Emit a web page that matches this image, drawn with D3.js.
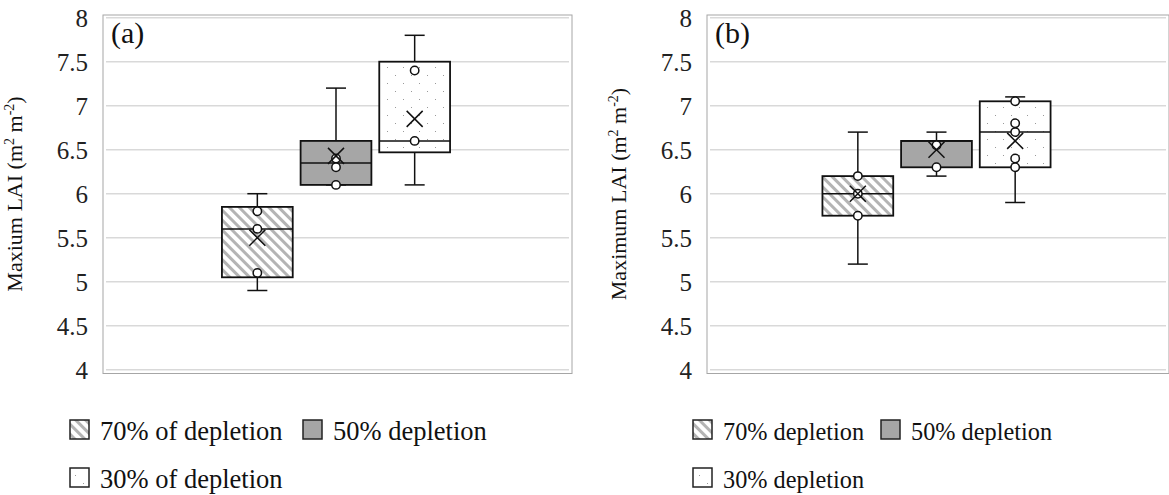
<!DOCTYPE html>
<html>
<head>
<meta charset="utf-8">
<script src="https://cdn.jsdelivr.net/npm/d3@7"></script>
<style>
  body { margin: 0; background: #fff; }
</style>
</head>
<body>
<svg id="chart" width="1169" height="495"></svg>
<script>
// series (one box per irrigation treatment)
const seriesKeys = ["s70", "s50", "s30"];
const legendA = ["70% of depletion", "50% depletion", "30% of depletion"];
const legendB = ["70% depletion", "50% depletion", "30% depletion"];
const yTicks = [4, 4.5, 5, 5.5, 6, 6.5, 7, 7.5, 8];

// panel (a) box stats
const aMin  = [4.9, 6.1, 6.1];
const aQ1   = [5.05, 6.1, 6.47];
const aMed  = [5.6, 6.35, 6.6];
const aQ3   = [5.85, 6.6, 7.5];
const aMax  = [6.0, 7.2, 7.8];
const aMean = [5.5, 6.43, 6.85];
const aPts  = [[5.8, 5.6, 5.1], [6.4, 6.3, 6.1], [7.4, 6.6]];

// panel (b) box stats
const bMin  = [5.2, 6.2, 5.9];
const bQ1   = [5.75, 6.3, 6.3];
const bMed  = [6.0, 6.6, 6.7];
const bQ3   = [6.2, 6.6, 7.05];
const bMax  = [6.7, 6.7, 7.1];
const bMean = [6.0, 6.5, 6.6];
const bPts  = [[6.2, 6.0, 5.75], [6.55, 6.3], [7.05, 6.8, 6.7, 6.4, 6.3]];

const FONT = '"Liberation Serif", Tinos, "Times New Roman", serif';

const svg = d3.select("#chart");
const defs = svg.append("defs");

// wide downward diagonal hatch
const hatch = defs.append("pattern")
    .attr("id", "hatch")
    .attr("patternUnits", "userSpaceOnUse")
    .attr("width", 7).attr("height", 7)
    .attr("patternTransform", "rotate(-45)");
hatch.append("rect").attr("width", 7).attr("height", 7).attr("fill", "#fff");
hatch.append("rect").attr("width", 3).attr("height", 7).attr("fill", "#b4b4b4");

// small staggered dots
const dots = defs.append("pattern")
    .attr("id", "dots")
    .attr("patternUnits", "userSpaceOnUse")
    .attr("width", 16).attr("height", 16);
dots.append("rect").attr("width", 16).attr("height", 16).attr("fill", "#fff");
dots.append("rect").attr("x", 3).attr("y", 3).attr("width", 1).attr("height", 1).attr("fill", "#9a9a9a");
dots.append("rect").attr("x", 11).attr("y", 11).attr("width", 1).attr("height", 1).attr("fill", "#9a9a9a");

const fills = ["url(#hatch)", "#a6a6a6", "url(#dots)"];

const y = d3.scaleLinear().domain([4, 8]).range([369.7, 17.7]);

const panels = [
  { tag: "(a)", left: 106, right: 569, ylab: "Maxium LAI", legend: legendA, legSize: 26.5,
    min: aMin, q1: aQ1, med: aMed, q3: aQ3, max: aMax, mean: aMean, pts: aPts,
    leg: [[70, 420], [303, 420], [70, 468]] },
  { tag: "(b)", left: 710, right: 1166, ylab: "Maximum LAI", legend: legendB, legSize: 24.3,
    min: bMin, q1: bQ1, med: bMed, q3: bQ3, max: bMax, mean: bMean, pts: bPts,
    leg: [[693, 420], [881, 420], [693, 468]] }
];

panels.forEach(function (p) {
  const g = svg.append("g");

  // gridlines
  g.selectAll(".grid").data(yTicks).enter().append("line")
      .attr("x1", p.left).attr("x2", p.right)
      .attr("y1", d => y(d)).attr("y2", d => y(d))
      .attr("stroke", "#d9d9d9").attr("stroke-width", 1.5);

  // plot frame
  g.append("rect")
      .attr("x", p.left - 3).attr("y", 15)
      .attr("width", p.right - p.left + 6).attr("height", 358.5)
      .attr("fill", "none").attr("stroke", "#a6a6a6").attr("stroke-width", 1);

  // y axis labels
  const yAxis = d3.axisLeft(y).tickValues(yTicks).tickSize(0).tickPadding(0)
      .tickFormat(d => String(d));
  const ax = g.append("g").attr("transform", `translate(${p.left - 18},0)`).call(yAxis);
  ax.attr("font-family", null).attr("font-size", null);
  ax.select(".domain").remove();
  ax.selectAll("text")
      .style("font-family", FONT)
      .style("font-size", "25px").attr("fill", "#222").attr("dy", "0.34em");

  // y title
  const yt = g.append("text")
      .attr("transform", `translate(${p.left - 84},194) rotate(-90)`)
      .attr("text-anchor", "middle")
      .style("font-family", FONT)
      .style("font-size", "22px").attr("fill", "#111");
  yt.append("tspan").text(p.ylab + " (m");
  yt.append("tspan").style("font-size", "14px").attr("dy", -8).text("2");
  yt.append("tspan").attr("dy", 8).text(" m");
  yt.append("tspan").style("font-size", "14px").attr("dy", -8).text("-2");
  yt.append("tspan").attr("dy", 8).text(")");

  // panel tag
  g.append("text").attr("x", p.left + 5).attr("y", 43)
      .style("font-family", FONT)
      .style("font-size", "30px").attr("fill", "#111").text(p.tag);

  // series positions
  const mid = (p.left + p.right) / 2 - 1.5;
  const x = d3.scaleBand().domain(seriesKeys)
      .range([mid - 118, mid + 118]).paddingInner(0.1).paddingOuter(0.05);
  const bw = x.bandwidth();

  seriesKeys.forEach(function (k, i) {
    const cx = x(k) + bw / 2;
    const bg = g.append("g");
    // whiskers
    bg.append("line").attr("x1", cx).attr("x2", cx)
        .attr("y1", y(p.max[i])).attr("y2", y(p.q3[i]))
        .attr("stroke", "#111").attr("stroke-width", 1.5);
    bg.append("line").attr("x1", cx).attr("x2", cx)
        .attr("y1", y(p.q1[i])).attr("y2", y(p.min[i]))
        .attr("stroke", "#111").attr("stroke-width", 1.5);
    [p.max[i], p.min[i]].forEach(function (v) {
      bg.append("line").attr("x1", cx - 10).attr("x2", cx + 10)
          .attr("y1", y(v)).attr("y2", y(v))
          .attr("stroke", "#111").attr("stroke-width", 1.5);
    });
    // box
    bg.append("rect")
        .attr("x", x(k)).attr("width", bw)
        .attr("y", y(p.q3[i])).attr("height", y(p.q1[i]) - y(p.q3[i]))
        .attr("fill", fills[i]).attr("stroke", "#111").attr("stroke-width", 1.8);
    // median
    bg.append("line").attr("x1", x(k)).attr("x2", x(k) + bw)
        .attr("y1", y(p.med[i])).attr("y2", y(p.med[i]))
        .attr("stroke", "#111").attr("stroke-width", 1.5);
    // points
    bg.selectAll(".pt").data(p.pts[i]).enter().append("circle")
        .attr("cx", cx).attr("cy", d => y(d)).attr("r", 4.2)
        .attr("fill", "#fff").attr("stroke", "#111").attr("stroke-width", 1.5);
    // mean marker
    const my = y(p.mean[i]), s = 8;
    bg.append("path")
        .attr("d", `M${cx - s},${my - s}L${cx + s},${my + s}M${cx - s},${my + s}L${cx + s},${my - s}`)
        .attr("stroke", "#111").attr("stroke-width", 1.5).attr("fill", "none");
  });

  // legend
  p.legend.forEach(function (lab, i) {
    const [lx, ly] = p.leg[i];
    g.append("rect").attr("x", lx).attr("y", ly).attr("width", 19).attr("height", 19)
        .attr("fill", fills[i]).attr("stroke", "#222").attr("stroke-width", 1.5);
    g.append("text").attr("x", lx + 30).attr("y", ly + 20)
        .style("font-family", FONT)
        .style("font-size", p.legSize + "px").attr("fill", "#111").text(lab);
  });
});
</script>
</body>
</html>
